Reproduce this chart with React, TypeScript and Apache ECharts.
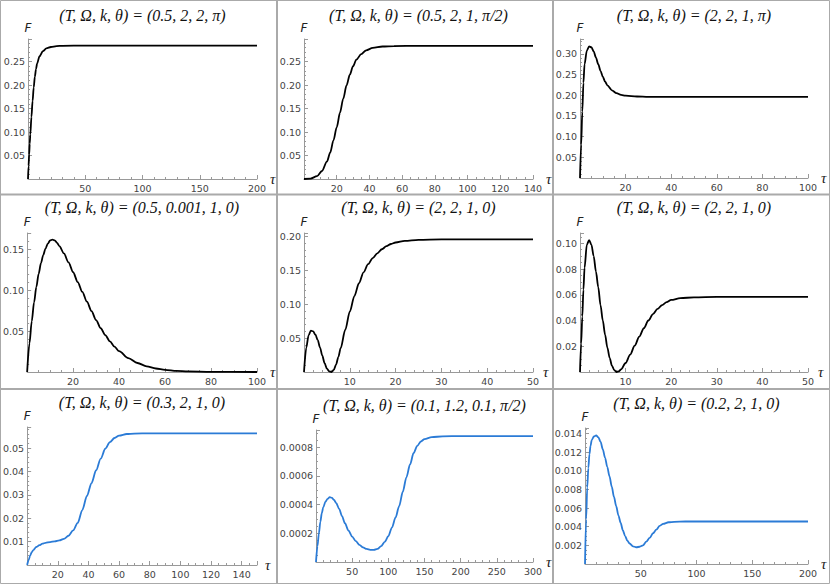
import React, { useEffect, useRef } from "react";
import * as echarts from "echarts";

// ---------- data ----------
const titles = [
  "(T, Ω, k, θ) = (0.5, 2, 2, π)",
  "(T, Ω, k, θ) = (0.5, 2, 1, π/2)",
  "(T, Ω, k, θ) = (2, 2, 1, π)",
  "(T, Ω, k, θ) = (0.5, 0.001, 1, 0)",
  "(T, Ω, k, θ) = (2, 2, 1, 0)",
  "(T, Ω, k, θ) = (2, 2, 1, 0)",
  "(T, Ω, k, θ) = (0.3, 2, 1, 0)",
  "(T, Ω, k, θ) = (0.1, 1.2, 0.1, π/2)",
  "(T, Ω, k, θ) = (0.2, 2, 1, 0)",
];

const curve1 = [
  [0, 0], [0.5, 0.028], [1, 0.052], [1.5, 0.075], [2, 0.095], [3, 0.132], [4, 0.166], [5, 0.195],
  [6, 0.218], [7, 0.234], [8, 0.246], [10, 0.261], [13, 0.272], [16, 0.278], [20, 0.281],
  [25, 0.283], [30, 0.2835], [50, 0.284], [100, 0.284], [200, 0.284],
];
const curve2 = [
  [0, 0], [4, 0.001], [8, 0.006], [11, 0.017], [14, 0.037], [16, 0.056], [18, 0.082],
  [20, 0.11], [22, 0.141], [24, 0.171], [26, 0.199], [28, 0.222], [30, 0.24], [32, 0.254],
  [35, 0.266], [38, 0.274], [42, 0.279], [48, 0.282], [55, 0.283], [70, 0.2835], [140, 0.2835],
];
const curve3 = [
  [0, 0], [0.5, 0.08], [1, 0.16], [1.5, 0.23], [2, 0.275], [3, 0.308], [4, 0.318], [5, 0.316],
  [6, 0.306], [7, 0.291], [8, 0.275], [9, 0.259], [10, 0.245], [11, 0.233], [12, 0.224],
  [14, 0.212], [16, 0.205], [18, 0.201], [20, 0.199], [25, 0.197], [30, 0.196], [100, 0.196],
];
const curve4 = [
  [0, 0], [1, 0.035], [2, 0.062], [3, 0.085], [4, 0.104], [5, 0.12], [6, 0.133], [7, 0.143],
  [8, 0.151], [9, 0.157], [10, 0.161], [11, 0.162], [12, 0.161], [13, 0.158], [14, 0.154],
  [16, 0.145], [18, 0.134], [20, 0.122], [22, 0.11], [24, 0.098], [26, 0.086], [28, 0.0745],
  [30, 0.0635], [32, 0.0535], [34, 0.045], [36, 0.0375], [38, 0.031], [40, 0.0255],
  [44, 0.017], [48, 0.011], [52, 0.007], [56, 0.0043], [60, 0.0027], [65, 0.0014],
  [70, 0.0007], [80, 0.0002], [100, 0],
];
const curve5 = [
  [0, 0], [0.5, 0.036], [1, 0.054], [1.5, 0.061], [2, 0.06], [2.5, 0.055], [3, 0.047],
  [3.5, 0.036], [4, 0.024], [4.5, 0.013], [5, 0.005], [5.5, 0.001], [6, 0], [6.5, 0.003],
  [7, 0.011], [7.5, 0.022], [8, 0.035], [9, 0.062], [10, 0.089], [11, 0.112], [12, 0.131],
  [13, 0.147], [14, 0.159], [15, 0.168], [16, 0.175], [17, 0.181], [18, 0.1855], [19, 0.1888],
  [20, 0.191], [22, 0.1935], [25, 0.195], [30, 0.1955], [50, 0.1955],
];
const curve6 = [
  [0, 0], [0.25, 0.022], [0.5, 0.043], [0.75, 0.064], [1, 0.081], [1.5, 0.099], [2, 0.1025],
  [2.5, 0.099], [3, 0.09], [3.5, 0.078], [4, 0.066], [4.5, 0.052], [5, 0.04], [5.5, 0.029],
  [6, 0.019], [6.5, 0.011], [7, 0.005], [7.5, 0.0015], [8, 0], [8.5, 0.0005], [9, 0.002],
  [10, 0.007], [11, 0.0135], [12, 0.0205], [13, 0.0275], [14, 0.034], [15, 0.04], [16, 0.045],
  [17, 0.049], [18, 0.052], [19, 0.0543], [20, 0.056], [22, 0.0574], [25, 0.058],
  [30, 0.0583], [50, 0.0583],
];
const curve7 = [
  [0, 0], [1, 0.0022], [2, 0.0041], [3, 0.0055], [4, 0.0064], [6, 0.0077], [8, 0.0085],
  [10, 0.0091], [12, 0.0095], [15, 0.0098], [18, 0.0101], [21, 0.0105], [24, 0.0112],
  [27, 0.0125], [30, 0.0148], [33, 0.018], [36, 0.0235], [39, 0.0295], [42, 0.035],
  [45, 0.0405], [48, 0.0455], [51, 0.0497], [54, 0.0525], [57, 0.0543], [60, 0.0553],
  [65, 0.056], [70, 0.0562], [80, 0.0563], [150, 0.0563],
];
const curve8 = [
  [0, 0], [2, 0.00011], [4, 0.0002], [6, 0.00028], [8, 0.00034], [10, 0.00038], [13, 0.00042],
  [16, 0.00044], [19, 0.000452], [22, 0.000447], [25, 0.000432], [28, 0.00041], [32, 0.00037],
  [36, 0.00032], [40, 0.00027], [45, 0.000218], [50, 0.000177], [55, 0.000145], [60, 0.00012],
  [65, 0.000102], [70, 0.000091], [75, 0.000085], [80, 0.000084], [85, 0.000092], [90, 0.00011],
  [95, 0.00014], [100, 0.00018], [105, 0.00024], [110, 0.00031], [115, 0.00039], [120, 0.00049],
  [125, 0.00059], [130, 0.00068], [135, 0.00076], [140, 0.00081], [145, 0.00084],
  [150, 0.000857], [160, 0.00087], [175, 0.000876], [200, 0.000878], [300, 0.000878],
];
const curve9 = [
  [0, 0], [1, 0.0048], [2, 0.0082], [3, 0.0103], [4, 0.0118], [5, 0.0127], [6, 0.0133],
  [8, 0.0137], [10, 0.0138], [12, 0.0136], [14, 0.0131], [16, 0.0123], [18, 0.0114],
  [20, 0.0104], [22, 0.0094], [24, 0.0083], [26, 0.0072], [28, 0.0062], [30, 0.0052],
  [32, 0.0044], [34, 0.0036], [36, 0.003], [38, 0.0025], [40, 0.0022], [43, 0.0019],
  [46, 0.0018], [49, 0.00185], [52, 0.002], [55, 0.0024], [58, 0.0028], [61, 0.0033],
  [64, 0.0037], [67, 0.0041], [70, 0.0043], [75, 0.00448], [80, 0.00453], [90, 0.00456],
  [200, 0.00456],
];
const curves = [curve1, curve2, curve3, curve4, curve5, curve6, curve7, curve8, curve9];

const xMaxes = [200, 140, 100, 100, 50, 50, 150, 300, 200];
const xIntervals = [50, 20, 20, 20, 10, 10, 20, 50, 50];
const xMinorSplits = [5, 4, 4, 4, 5, 5, 4, 5, 5];
const yMaxes = [0.298, 0.298, 0.336, 0.17, 0.205, 0.108, 0.059, 0.00092, 0.0146];
const yIntervals = [0.05, 0.05, 0.05, 0.05, 0.05, 0.02, 0.01, 0.0002, 0.002];
const yMinorSplits = [5, 5, 5, 5, 5, 4, 5, 4, 4];
const yDecimals = [2, 2, 2, 2, 2, 2, 2, 4, 3];

// ---------- layout / style ----------
const gridBoxes = [
  [28, 39, 229, 140],
  [304, 39, 229, 140],
  [580, 39, 228, 139],
  [27, 233, 230, 139],
  [304, 233, 229, 139],
  [580, 233, 228, 139],
  [27, 427, 230, 138],
  [316, 430, 217, 132],
  [585, 428, 223, 136],
];
const titleYs = [15, 15, 15, 207, 207, 207, 402, 405, 403];
const lineColors = ["#000", "#000", "#000", "#000", "#000", "#000", "#2b7bd6", "#2b7bd6", "#2b7bd6"];

const AXIS = "#999";

function makeFormatter(interval: number, dec: number) {
  return (v: number) => {
    const r = v / interval;
    if (v <= 0 || Math.abs(r - Math.round(r)) > 1e-6) return "";
    return v.toFixed(dec);
  };
}

export default function App() {
  const ref = useRef<HTMLDivElement>(null);
  useEffect(() => {
    if (!ref.current) return;
    const chart = echarts.init(ref.current, null, { renderer: "svg" });
    const grid: any[] = [];
    const xAxis: any[] = [];
    const yAxis: any[] = [];
    const series: any[] = [];
    const graphic: any[] = [];

    for (let i = 0; i < 9; i++) {
      const [l, t, w, h] = gridBoxes[i];
      grid.push({ left: l, top: t, width: w, height: h, containLabel: false });
      xAxis.push({
        type: "value",
        gridIndex: i,
        min: 0,
        max: xMaxes[i],
        interval: xIntervals[i],
        name: "τ",
        nameLocation: "end",
        nameGap: 8,
        nameTextStyle: { fontFamily: "Liberation Serif", fontStyle: "italic", fontSize: 15, color: "#222" },
        axisLine: { onZero: false, lineStyle: { color: AXIS, width: 1 } },
        axisTick: { inside: true, length: 4, lineStyle: { color: AXIS } },
        minorTick: { show: true, splitNumber: xMinorSplits[i], length: 2, lineStyle: { color: AXIS } },
        splitLine: { show: false },
        axisLabel: {
          formatter: makeFormatter(xIntervals[i], 0),
          fontSize: 9.5,
          fontFamily: "DejaVu Sans",
          color: "#444",
          margin: 4,
        },
      });
      yAxis.push({
        type: "value",
        gridIndex: i,
        min: 0,
        max: yMaxes[i],
        interval: yIntervals[i],
        name: "F",
        nameLocation: "end",
        nameGap: 5,
        nameTextStyle: { fontFamily: "DejaVu Sans", fontStyle: "italic", fontSize: 12, color: "#222" },
        axisLine: { show: true, onZero: false, lineStyle: { color: AXIS, width: 1 } },
        axisTick: { show: true, inside: true, length: 4, lineStyle: { color: AXIS } },
        minorTick: { show: true, splitNumber: yMinorSplits[i], length: 2, lineStyle: { color: AXIS } },
        splitLine: { show: false },
        axisLabel: {
          formatter: makeFormatter(yIntervals[i], yDecimals[i]),
          fontSize: 9.5,
          fontFamily: "DejaVu Sans",
          color: "#444",
          margin: 3,
        },
      });
      series.push({
        type: "line",
        xAxisIndex: i,
        yAxisIndex: i,
        data: curves[i],
        showSymbol: false,
        smooth: 0.3,
        smoothMonotone: "x",
        lineStyle: { color: lineColors[i], width: 1.8 },
        silent: true,
      });
      graphic.push({
        type: "text",
        x: l + w / 2,
        y: titleYs[i],
        style: {
          text: titles[i],
          fontFamily: "Liberation Serif",
          fontStyle: "italic",
          fontSize: 16,
          fill: "#111",
          textAlign: "center",
          textVerticalAlign: "middle",
        },
      });
    }

    const border = { stroke: "#aaa", lineWidth: 2 };
    const lines = [
      [277, 0, 277, 584],
      [553, 0, 553, 584],
      [0, 194.5, 830, 194.5],
      [0, 389, 830, 389],
    ];
    lines.forEach(([x1, y1, x2, y2]) =>
      graphic.push({ type: "line", shape: { x1, y1, x2, y2 }, style: border, silent: true })
    );
    graphic.push({
      type: "rect",
      shape: { x: 0.5, y: 0.5, width: 829, height: 583 },
      style: { stroke: "#aaa", lineWidth: 1, fill: "none" },
      silent: true,
    });

    chart.setOption({
      animation: false,
      backgroundColor: "#fff",
      grid,
      xAxis,
      yAxis,
      series,
      graphic,
    });
    return () => chart.dispose();
  }, []);

  return (
    <div
      ref={ref}
      style={{ position: "absolute", left: 0, top: 0, width: 830, height: 584 }}
    />
  );
}
